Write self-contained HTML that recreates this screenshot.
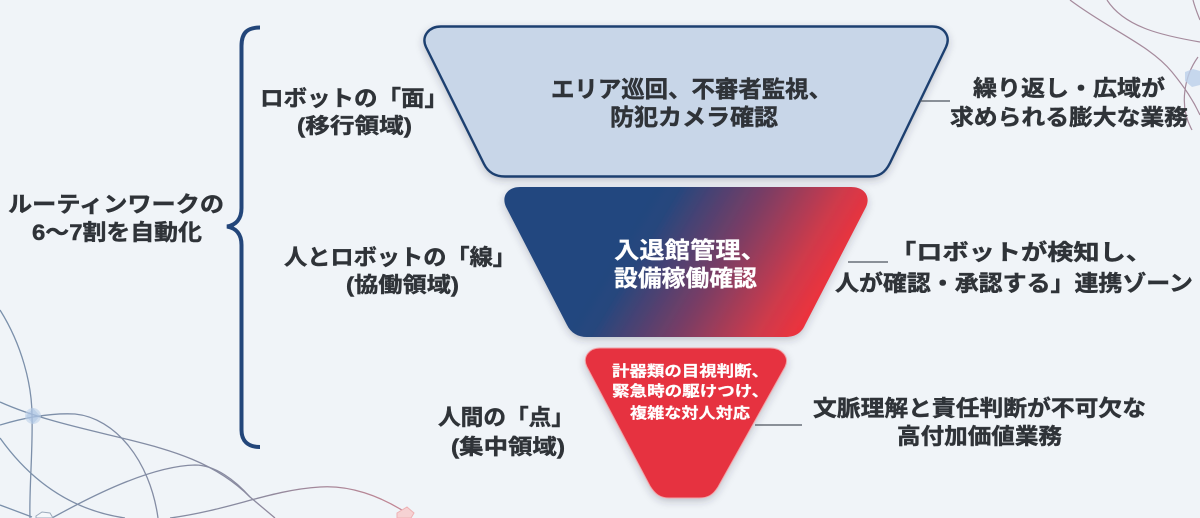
<!DOCTYPE html>
<html lang="ja"><head><meta charset="utf-8"><style>
html,body{margin:0;padding:0;width:1200px;height:518px;overflow:hidden;background:#f0f4f8}
svg{display:block}
text{font-family:"Liberation Sans","Noto Sans CJK JP",sans-serif;font-weight:700;fill:#2f3338;stroke:#2f3338;stroke-width:.45px}
text.w{fill:#fff;stroke:#fff;stroke-width:.25px}
</style></head><body>
<svg width="1200" height="518" viewBox="0 0 1200 518" xmlns="http://www.w3.org/2000/svg">
<defs>
<linearGradient id="mid" gradientUnits="userSpaceOnUse" x1="640" y1="205" x2="815" y2="310"><stop offset="0" stop-color="#23467f"/><stop offset=".12" stop-color="#26467d"/><stop offset=".5" stop-color="#7c3d64"/><stop offset=".82" stop-color="#cf3a4b"/><stop offset="1" stop-color="#ee323c"/></linearGradient>
<linearGradient id="ln" gradientUnits="userSpaceOnUse" x1="0" y1="0" x2="420" y2="0"><stop offset="0" stop-color="#7a90ab"/><stop offset=".6" stop-color="#8a8a9f"/><stop offset="1" stop-color="#cb8592"/></linearGradient>
<filter id="s" x="-10%" y="-10%" width="120%" height="130%"><feDropShadow dx="0" dy="3" stdDeviation="4" flood-color="#334" flood-opacity=".25"/></filter>
</defs>
<rect width="1200" height="518" fill="#f0f4f8"/>
<g fill="none" stroke="url(#ln)" stroke-width="1.300">
<path d="M0 310C22 345 32 385 32 416C33 450 29 490 30 518"/>
<path d="M0 402C40 420 90 430 130 440C170 450 215 462 250 497L275 518"/>
<path d="M0 425C30 416 55 413 75 414C115 418 150 460 158 518"/>
<path d="M0 438C30 480 70 510 125 518"/>
<path d="M0 505L32 517"/>
<path d="M52 518C90 497 150 466 195 465C215 465 235 480 250 497"/>
<path d="M170 518C230 510 270 490 320 487C350 485 380 496 405 512"/>
</g>
<g fill="none" stroke="#a58a9c" stroke-width="1.200">
<path d="M1070 0C1110 30 1150 45 1172 72C1185 88 1193 100 1200 115"/>
<path d="M1107 0C1125 28 1165 36 1200 42"/>
<path d="M1193 0C1195 8 1198 15 1200 20"/>
<path d="M1198 57C1185 75 1178 105 1192 130"/>
</g>
<circle cx="33" cy="416" r="8" fill="#bcd0ea" opacity=".6"/>
<path d="M33 408L40 416L33 424L26 416Z" fill="#9db8df" opacity=".4"/>
<path d="M36 516l6-4 8 1 3 5h-17z" fill="#f5f8fb" stroke="#9caabc"/>
<path d="M397 513l10-6 7 6-3 5h-14z" fill="#f6d2d3" stroke="#eeb1b4"/>
<path d="M1185 72l8-3 7 2v14l-8 2-7-6z" fill="#bcd0ea" opacity=".8"/>

<path d="M260 27.500C248 27.500 241.500 32 241.500 46V208C241.500 219 236 225 227 226.500C236 228 241.500 234 241.500 245V430C241.500 441 248 447 260 447" fill="none" stroke="#23467a" stroke-width="4"/>

<path d="M441 26.500H932C944 26.500 951 36 946 47L890 163C885 173 879 176.500 870 176.500H505C495 176.500 488 172 484 164L426 47C421 36 429 26.500 441 26.500Z" fill="#c8d6e8" stroke="#1f3f70" stroke-width="2.400" filter="url(#s)"/>
<path d="M520 187H851C864 187 871 196 866 207L805 325C801 334 794 337 785 337H587C578 337 571 333 567 325L506 207C501 196 508 187 520 187Z" fill="url(#mid)" filter="url(#s)"/>
<path d="M600 348H770C782 348 790 357 785 367L718 487C713 495 708 498 699 498H669C660 498 655 494 650 486L587 367C582 357 589 348 600 348Z" fill="#e63340" stroke="#f1a3a8" stroke-width="1" filter="url(#s)"/>

<g stroke="#4d545e" stroke-width="1.300">
<path d="M920 101H950M848 262H888M755 425H802" fill="none"/>
</g>

<text x="551" y="97" font-size="23" textLength="281" lengthAdjust="spacingAndGlyphs">エリア巡回、不審者監視、</text>
<text x="610" y="125" font-size="23" textLength="168" lengthAdjust="spacingAndGlyphs">防犯カメラ確認</text>
<text class="w" x="614" y="258" font-size="23" textLength="152" lengthAdjust="spacingAndGlyphs">入退館管理、</text>
<text class="w" x="614" y="286" font-size="23" textLength="143" lengthAdjust="spacingAndGlyphs">設備稼働確認</text>
<text class="w" x="612" y="376" font-size="15" textLength="157" lengthAdjust="spacingAndGlyphs">計器類の目視判断、</text>
<text class="w" x="612" y="396" font-size="15" textLength="157" lengthAdjust="spacingAndGlyphs">緊急時の駆けつけ、</text>
<text class="w" x="630" y="418" font-size="15" textLength="120" lengthAdjust="spacingAndGlyphs">複雑な対人対応</text>

<text x="8" y="212" font-size="22" textLength="216" lengthAdjust="spacingAndGlyphs">ルーティンワークの</text>
<text x="32" y="240" font-size="22" textLength="170" lengthAdjust="spacingAndGlyphs">6〜7割を自動化</text>
<text x="260" y="106" font-size="22" textLength="188" lengthAdjust="spacingAndGlyphs">ロボットの「面」</text>
<text x="297" y="133" font-size="21" textLength="115" lengthAdjust="spacingAndGlyphs">(移行領域)</text>
<text x="284" y="265" font-size="22" textLength="232" lengthAdjust="spacingAndGlyphs">人とロボットの「線」</text>
<text x="346" y="292" font-size="21" textLength="113" lengthAdjust="spacingAndGlyphs">(協働領域)</text>
<text x="438" y="425" font-size="22" textLength="136" lengthAdjust="spacingAndGlyphs">人間の「点」</text>
<text x="451" y="454" font-size="21" textLength="114" lengthAdjust="spacingAndGlyphs">(集中領域)</text>

<text x="973" y="96" font-size="22" textLength="192" lengthAdjust="spacingAndGlyphs">繰り返し・広域が</text>
<text x="950" y="125" font-size="22" textLength="238" lengthAdjust="spacingAndGlyphs">求められる膨大な業務</text>
<text x="890" y="260" font-size="22" textLength="262" lengthAdjust="spacingAndGlyphs">「ロボットが検知し、</text>
<text x="835" y="291" font-size="22" textLength="358" lengthAdjust="spacingAndGlyphs">人が確認・承認する」連携ゾーン</text>
<text x="813" y="416" font-size="22" textLength="333" lengthAdjust="spacingAndGlyphs">文脈理解と責任判断が不可欠な</text>
<text x="897" y="444" font-size="22" textLength="165" lengthAdjust="spacingAndGlyphs">高付加価値業務</text>
</svg>
</body></html>
